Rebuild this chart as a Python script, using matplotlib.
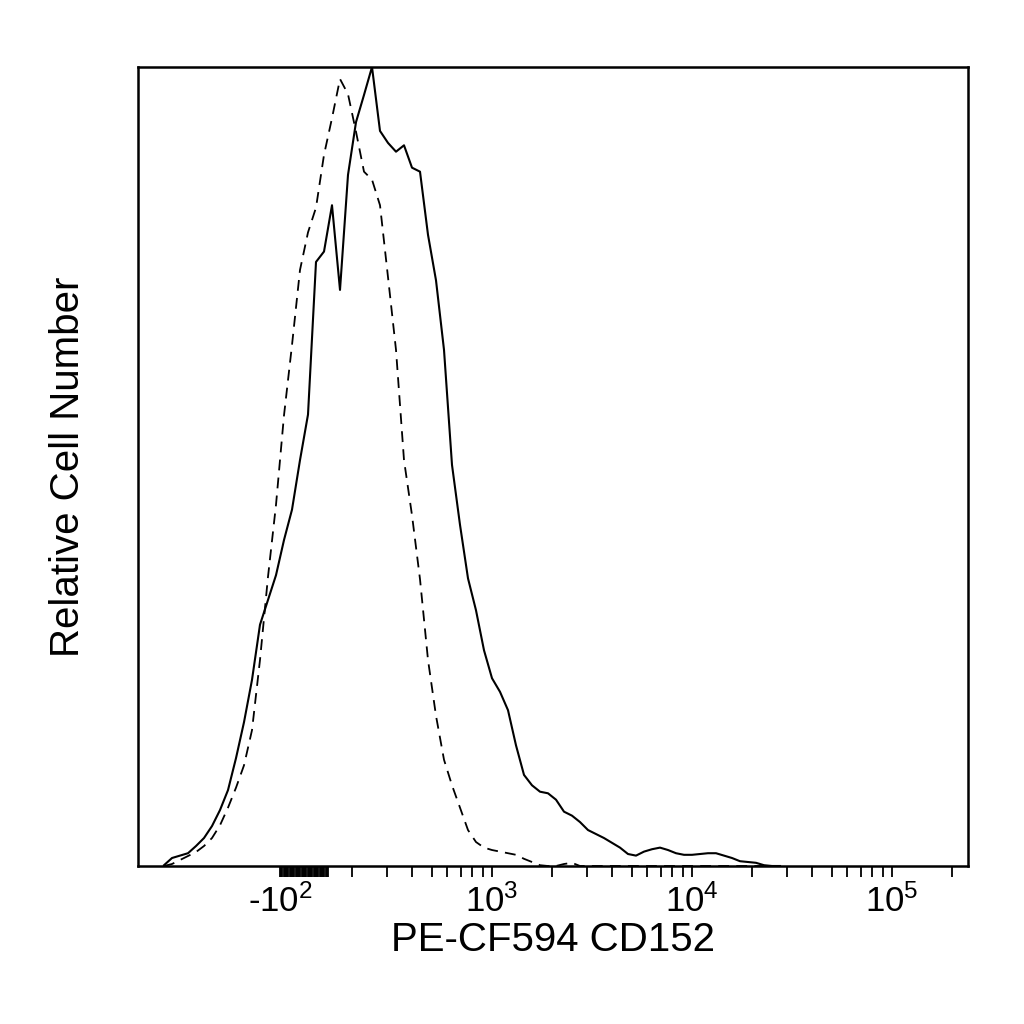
import numpy as np
import matplotlib
matplotlib.use("Agg")
import matplotlib.pyplot as plt

plt.rcParams['font.family'] = ['Liberation Sans', 'DejaVu Sans']
plt.rcParams['mathtext.fontset'] = 'custom'
plt.rcParams['mathtext.rm'] = 'Liberation Sans'
plt.rcParams['mathtext.it'] = 'Liberation Sans'

# histogram channels, evenly spaced on the biexponential display scale
channels = np.arange(78)

# relative cell number per channel, stained (solid)
stained = [0.1, 1.0, 1.3, 1.6, 2.5, 3.5, 5.0, 7.0, 9.5, 13.5,
           18.0, 23.3, 30.2, 33.3, 36.4, 40.8, 44.6, 50.8, 56.5, 75.6,
           76.9, 82.7, 72.1, 86.5, 93.1, 96.5, 100.0, 92.0, 90.5, 89.4,
           90.2, 87.4, 86.9, 79.0, 73.3, 64.6, 50.2, 42.7, 36.0, 32.0,
           27.0, 23.5, 21.8, 19.5, 15.1, 11.4, 10.1, 9.3, 9.1, 8.3,
           6.8, 6.3, 5.5, 4.5, 4.0, 3.5, 2.9, 2.3, 1.5, 1.3,
           1.8, 2.1, 2.3, 2.0, 1.6, 1.4, 1.4, 1.5, 1.6, 1.6,
           1.3, 1.0, 0.6, 0.5, 0.4, 0.1, 0.0, 0.0]

# isotype control (dashed)
control = [0.0, 0.25, 0.75, 1.25, 1.75, 2.5, 3.5, 5.1, 7.3, 9.8,
           12.6, 17.0, 25.8, 36.2, 45.2, 56.4, 65.2, 74.6, 79.3, 82.4,
           89.0, 93.6, 98.5, 96.6, 91.9, 86.9, 85.9, 82.7, 73.7, 64.6,
           50.8, 43.9, 35.9, 25.8, 18.8, 13.3, 10.1, 7.3, 4.5, 3.0,
           2.3, 2.0, 1.8, 1.6, 1.4, 0.9, 0.5, 0.1, 0.0, 0.0,
           0.25, 0.4, 0.0, 0.0, 0.0, 0.0, 0.0, 0.0, 0.0, 0.0,
           0.0, 0.0, 0.0, 0.0, 0.0, 0.0, 0.0, 0.0, 0.0, 0.0,
           0.0, 0.0, 0.0, 0.0, 0.0, 0.0, 0.0, 0.0]

major_ticks = [-100, 1000, 10000, 100000]
major_labels = ['-$10^{2}$', '$10^{3}$', '$10^{4}$', '$10^{5}$']

T = 200.0   # linear threshold
L = 0.24    # decades used by the linear half-region


def fwd(x):
    x = np.asarray(x, dtype=float)
    a = np.abs(x)
    with np.errstate(divide='ignore', invalid='ignore'):
        logpart = np.sign(x) * (np.log10(np.maximum(a, 1e-12) / T) + L)
    return np.where(a <= T, x / T * L, logpart)


def inv(f):
    f = np.asarray(f, dtype=float)
    a = np.abs(f)
    return np.where(a <= L, f * T / L, np.sign(f) * T * 10 ** (a - L))


x = inv(-0.70 + 0.04 * channels)

fig = plt.figure(figsize=(10.24, 10.24), dpi=100)
ax = fig.add_axes([138 / 1024, 1 - 866 / 1024, 830 / 1024, 799 / 1024])
ax.set_xscale('function', functions=(fwd, inv))

ax.plot(x, control, color='black', lw=1.3, linestyle=(0, (6, 4)))
ax.plot(x, stained, color='black', lw=1.5)

ax.set_xlim(inv(-0.83), inv(3.32))
ax.set_ylim(0, 100)

minor = list(range(-100, 101, 5)) + [200, 300, 400, 500, 600, 700, 800, 900]
minor += [m * 1000 for m in range(2, 10)] + [m * 10000 for m in range(2, 10)] + [200000]
ax.set_xticks(major_ticks)
ax.set_xticklabels(major_labels, fontsize=25)
ax.set_xticks(minor, minor=True)
ax.tick_params(axis='x', which='both', direction='out', length=8, width=1.3, pad=5)
ax.set_yticks([])

for s in ax.spines.values():
    s.set_linewidth(1.8)

ax.set_xlabel('PE-CF594 CD152', fontsize=29, labelpad=2)
ax.set_ylabel('Relative Cell Number', fontsize=29)
ax.yaxis.set_label_coords(-0.062, 0.5)

fig.savefig('out.png', dpi=100)
